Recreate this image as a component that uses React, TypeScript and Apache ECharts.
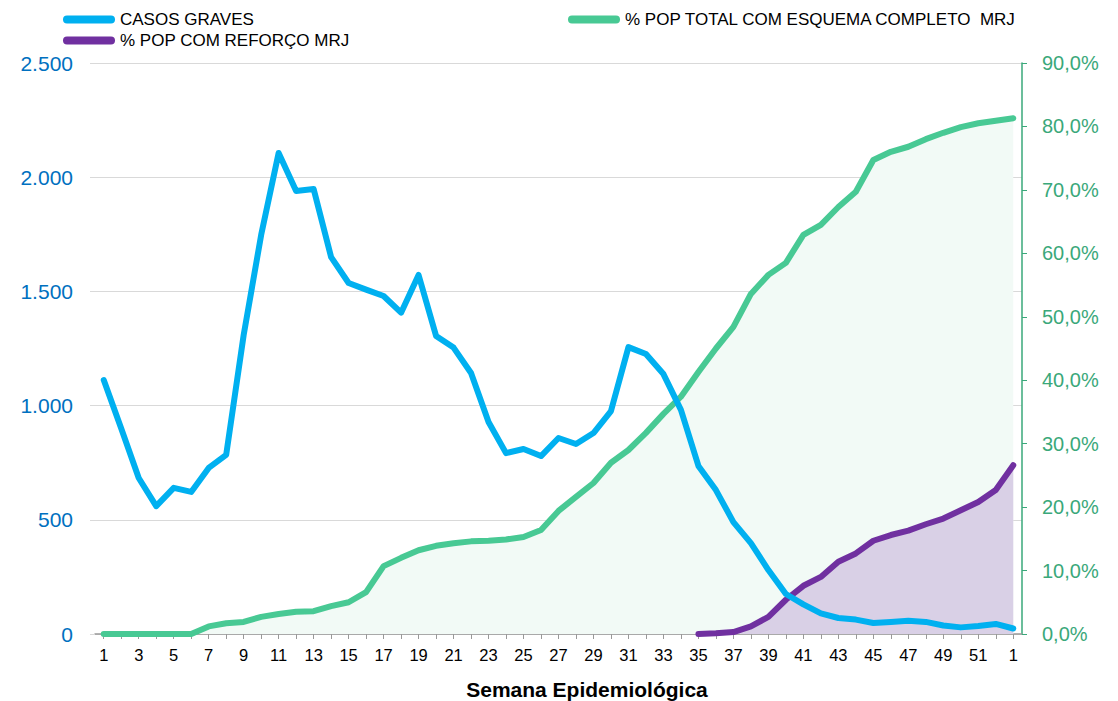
import React, { useEffect, useRef } from "react";
import * as echarts from "echarts";

const semanas: string[] = [
  "1","2","3","4","5","6","7","8","9","10","11","12","13","14","15","16","17","18","19","20",
  "21","22","23","24","25","26","27","28","29","30","31","32","33","34","35","36","37","38","39","40",
  "41","42","43","44","45","46","47","48","49","50","51","52","1",
];

const casosGraves: number[] = [
  1112, 900, 683, 560, 640, 622, 727, 784, 1309, 1747, 2106, 1940, 1948, 1650, 1537, 1508, 1480, 1407, 1572, 1305,
  1254, 1143, 928, 792, 810, 779, 858, 832, 880, 976, 1256, 1226, 1138, 981, 736, 630, 490, 398, 280, 175,
  130, 90, 70, 63, 48, 53, 58, 53, 37, 29, 35, 44, 24,
];

const pctEsquemaCompleto: number[] = [
  0, 0, 0, 0, 0, 0, 1.2, 1.7, 1.9, 2.7, 3.15, 3.5, 3.6, 4.4, 5.0, 6.6, 10.7, 12.0, 13.2, 13.9,
  14.3, 14.6, 14.7, 14.9, 15.3, 16.4, 19.4, 21.6, 23.8, 27.0, 29.0, 31.7, 34.7, 37.4, 41.3, 45.0, 48.4, 53.6, 56.6, 58.5,
  62.9, 64.5, 67.3, 69.7, 74.7, 76.0, 76.8, 78.0, 79.0, 79.9, 80.5, 80.9, 81.3,
];

const pctReforco: (number | null)[] = [
  null, null, null, null, null, null, null, null, null, null, null, null, null, null, null, null, null, null, null, null,
  null, null, null, null, null, null, null, null, null, null, null, null, null, null,
  0, 0.1, 0.3, 1.2, 2.7, 5.4, 7.6, 9.0, 11.4, 12.7, 14.7, 15.6, 16.3, 17.3, 18.2, 19.5, 20.8, 22.7, 26.6,
];

const leftTicks = { min: 0, max: 2500, interval: 500 };
const rightTicks = { min: 0, max: 90, interval: 10 };

const NAME_CASOS = "CASOS GRAVES";
const NAME_TOTAL = "% POP TOTAL COM ESQUEMA COMPLETO  MRJ";
const NAME_REFORCO = "% POP COM REFORÇO MRJ";
const AXIS_TITLE = "Semana Epidemiológica";

const FONT = "'Liberation Sans', Arial, sans-serif";
const BLUE = "#00b0f0";
const GREEN = "#48c994";
const PURPLE = "#7030a0";
const PILL = "path://M4,0 H48 A4,4 0 0 1 48,8 H4 A4,4 0 0 1 4,0 Z";

function fmtThousands(v: number): string {
  const s = Math.round(v).toString();
  return s.replace(/\B(?=(\d{3})+(?!\d))/g, ".");
}

export default function App() {
  const ref = useRef<HTMLDivElement>(null);

  useEffect(() => {
    if (!ref.current) return;
    const chart = echarts.init(ref.current, null, { renderer: "svg" });
    chart.setOption({
      animation: false,
      textStyle: { fontFamily: FONT },
      grid: { left: 95, right: 96, top: 63, bottom: 67, containLabel: false },
      legend: [
        {
          orient: "vertical",
          left: 58,
          top: 6,
          itemWidth: 52,
          itemHeight: 8,
          itemGap: 4,
          textStyle: { fontFamily: FONT, fontSize: 17, color: "#000" },
          data: [
            { name: NAME_CASOS, icon: PILL },
            { name: NAME_REFORCO, icon: PILL },
          ],
        },
        {
          orient: "vertical",
          left: 563,
          top: 6,
          itemWidth: 52,
          itemHeight: 8,
          textStyle: { fontFamily: FONT, fontSize: 17, color: "#000" },
          data: [{ name: NAME_TOTAL, icon: PILL }],
        },
      ],
      xAxis: {
        type: "category",
        data: semanas,
        boundaryGap: true,
        axisLine: { show: true, lineStyle: { color: "#999999", width: 1.5 } },
        axisTick: { show: true, interval: 0, alignWithLabel: true, length: 5, lineStyle: { color: "#999999" } },
        axisLabel: { interval: 1, color: "#000", fontSize: 16.5, margin: 12, fontFamily: FONT },
        splitLine: { show: false },
      },
      yAxis: [
        {
          type: "value",
          min: leftTicks.min,
          max: leftTicks.max,
          interval: leftTicks.interval,
          axisLine: { show: false },
          axisTick: { show: true, length: 5, lineStyle: { color: "#d9d9d9" } },
          axisLabel: {
            color: "#0070c0",
            fontSize: 21,
            margin: 22,
            fontFamily: FONT,
            formatter: (v: number) => fmtThousands(v),
          },
          splitLine: { show: true, lineStyle: { color: "#d9d9d9", width: 1 } },
        },
        {
          type: "value",
          position: "right",
          min: rightTicks.min,
          max: rightTicks.max,
          interval: rightTicks.interval,
          axisLine: { show: true, lineStyle: { color: "#3aa87a", width: 1.5 } },
          axisTick: { show: true, length: 5, lineStyle: { color: "#3aa87a" } },
          axisLabel: {
            color: "#3aa87a",
            fontSize: 20,
            margin: 20,
            fontFamily: FONT,
            formatter: (v: number) => v.toFixed(1).replace(".", ",") + "%",
          },
          splitLine: { show: false },
        },
      ],
      graphic: [
        {
          type: "text",
          x: 587,
          y: 689,
          style: {
            text: AXIS_TITLE,
            fontFamily: FONT,
            fontSize: 21,
            fontWeight: "bold",
            fill: "#000",
            align: "center",
            verticalAlign: "middle",
          },
        },
      ],
      series: [
        {
          name: NAME_TOTAL,
          type: "line",
          yAxisIndex: 1,
          data: pctEsquemaCompleto,
          showSymbol: false,
          symbol: "none",
          color: GREEN,
          lineStyle: { color: GREEN, width: 6, cap: "round", join: "round" },
          areaStyle: { color: "#f2faf6", opacity: 1 },
          z: 2,
        },
        {
          name: NAME_REFORCO,
          type: "line",
          yAxisIndex: 1,
          data: pctReforco,
          showSymbol: false,
          symbol: "none",
          connectNulls: false,
          color: PURPLE,
          lineStyle: { color: PURPLE, width: 6, cap: "round", join: "round" },
          areaStyle: { color: "#d9d0e6", opacity: 1 },
          z: 3,
        },
        {
          name: NAME_CASOS,
          type: "line",
          yAxisIndex: 0,
          data: casosGraves,
          showSymbol: false,
          symbol: "none",
          color: BLUE,
          lineStyle: { color: BLUE, width: 6, cap: "round", join: "round" },
          z: 4,
        },
      ],
    });
    return () => chart.dispose();
  }, []);

  return (
    <div
      ref={ref}
      style={{ position: "absolute", left: 0, top: 0, width: 1118, height: 701, overflow: "hidden" }}
    />
  );
}
